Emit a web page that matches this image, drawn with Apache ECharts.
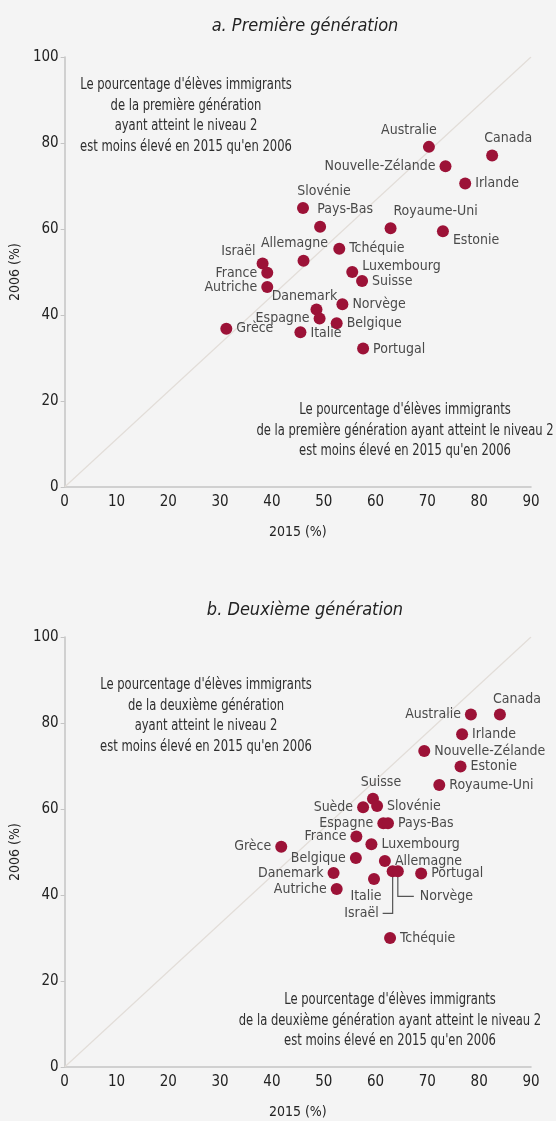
<!DOCTYPE html>
<html>
<head>
<meta charset="utf-8">
<script src="https://cdn.jsdelivr.net/npm/echarts@6/dist/echarts.min.js"></script>
<style>
  html, body { margin: 0; padding: 0; background: #f4f4f4; }
  #chart { width: 556px; height: 1121px; }
</style>
</head>
<body>
<div id="chart"></div>
<script>
// a. Première génération
const countriesA = ['Australie', 'Canada', 'Nouvelle-Zélande', 'Irlande', 'Slovénie', 'Pays-Bas',
  'Royaume-Uni', 'Estonie', 'Tchéquie', 'Allemagne', 'Israël', 'France', 'Autriche', 'Luxembourg',
  'Suisse', 'Danemark', 'Norvège', 'Espagne', 'Belgique', 'Grèce', 'Italie', 'Portugal']
const x2015A = [70.3, 82.5, 73.5, 77.3, 46.0, 49.3, 62.9, 73.0, 53.0, 46.1, 38.2, 39.1, 39.1, 55.5,
  57.4, 48.6, 53.6, 49.2, 52.5, 31.2, 45.5, 57.6]
const y2006A = [79.1, 77.1, 74.6, 70.6, 64.9, 60.5, 60.2, 59.5, 55.4, 52.6, 52.0, 49.8, 46.5, 50.0,
  47.9, 41.3, 42.5, 39.2, 38.1, 36.8, 36.0, 32.2]

// b. Deuxième génération
const countriesB = ['Australie', 'Canada', 'Irlande', 'Nouvelle-Zélande', 'Estonie', 'Royaume-Uni',
  'Suisse', 'Suède', 'Slovénie', 'Espagne', 'Pays-Bas', 'France', 'Luxembourg', 'Grèce', 'Belgique',
  'Allemagne', 'Israël', 'Norvège', 'Portugal', 'Danemark', 'Italie', 'Autriche', 'Tchéquie']
const x2015B = [78.4, 84.0, 76.7, 69.4, 76.4, 72.3, 59.5, 57.6, 60.3, 61.5, 62.4, 56.3, 59.2, 41.8,
  56.2, 61.8, 63.3, 64.3, 68.8, 51.9, 59.7, 52.5, 62.8]
const y2006B = [82.0, 82.0, 77.4, 73.5, 69.9, 65.6, 62.4, 60.4, 60.7, 56.7, 56.7, 53.6, 51.8, 51.2,
  48.6, 47.9, 45.5, 45.5, 45.0, 45.1, 43.7, 41.4, 30.0]

const xTicks = [0, 10, 20, 30, 40, 50, 60, 70, 80, 90]
const yTicks = [0, 20, 40, 60, 80, 100]

const titles = ['a. Première génération', 'b. Deuxième génération']
const noteTopA = "Le pourcentage d'élèves immigrants\nde la première génération\nayant atteint le niveau 2\nest moins élevé en 2015 qu'en 2006"
const noteBottomA = "Le pourcentage d'élèves immigrants\nde la première génération ayant atteint le niveau 2\nest moins élevé en 2015 qu'en 2006"
const noteTopB = "Le pourcentage d'élèves immigrants\nde la deuxième génération\nayant atteint le niveau 2\nest moins élevé en 2015 qu'en 2006"
const noteBottomB = "Le pourcentage d'élèves immigrants\nde la deuxième génération ayant atteint le niveau 2\nest moins élevé en 2015 qu'en 2006"

// label placement (style only)
const placeA = {
  'Australie': ['top', [-20, 0]], 'Canada': ['top', [16, 0]], 'Nouvelle-Zélande': ['left', [0, 0]],
  'Irlande': ['right', [0, 0]], 'Slovénie': ['top', [21, 0]], 'Pays-Bas': ['top', [25, 0]],
  'Royaume-Uni': ['top', [45, 0]], 'Estonie': ['right', [0, 9]], 'Tchéquie': ['right', [0, 0]],
  'Allemagne': ['top', [-9, 0]], 'Israël': ['left', [3, -12]], 'France': ['left', [0, 0]],
  'Autriche': ['left', [0, 0]], 'Luxembourg': ['right', [0, -6]], 'Suisse': ['right', [0, 0]],
  'Danemark': ['top', [-12, 4]], 'Norvège': ['right', [0, 0]], 'Espagne': ['left', [0, 0]],
  'Belgique': ['right', [0, 0]], 'Grèce': ['right', [0, 0]], 'Italie': ['right', [0, 1]],
  'Portugal': ['right', [0, 1]]
}
const placeB = {
  'Australie': ['left', [0, 0]], 'Canada': ['top', [17, 2]], 'Irlande': ['right', [0, 0]],
  'Nouvelle-Zélande': ['right', [0, 0]], 'Estonie': ['right', [0, 0]], 'Royaume-Uni': ['right', [0, 0]],
  'Suisse': ['top', [8, 1]], 'Suède': ['left', [0, 0]], 'Slovénie': ['right', [0, 0]],
  'Espagne': ['left', [0, 0]], 'Pays-Bas': ['right', [0, 0]], 'France': ['left', [0, 0]],
  'Luxembourg': ['right', [0, 0]], 'Grèce': ['left', [0, 0]], 'Belgique': ['left', [0, 0]],
  'Allemagne': ['right', [0, 0]], 'Israël': ['left', [-4, 42]], 'Norvège': ['right', [12, 25]],
  'Portugal': ['right', [0, 0]], 'Danemark': ['left', [0, 0]], 'Italie': ['bottom', [-8, 0]],
  'Autriche': ['left', [0, 0]], 'Tchéquie': ['right', [0, 0]]
}

const FONT = "'DejaVu Sans Condensed', sans-serif"
const DOT = '#9c1237'
const AXIS = '#c4c4c4'
const TEXT = '#222'

const buildPoints = (names, xs, ys, place) => names.map((n, i) => ({
  name: n,
  value: [xs[i], ys[i]],
  label: { position: place[n][0], offset: place[n][1] }
}))

const xAxisOpt = (gi) => ({
  type: 'value', gridIndex: gi, min: 0, max: xTicks[xTicks.length - 1], interval: 10,
  axisLine: { show: true, lineStyle: { color: AXIS, width: 1.5 } },
  axisTick: { show: false },
  splitLine: { show: false },
  axisLabel: { color: TEXT, fontFamily: FONT, fontSize: 15, margin: 8 },
  name: '2015 (%)', nameLocation: 'middle', nameGap: 38,
  nameTextStyle: { color: TEXT, fontFamily: FONT, fontSize: 14 }
})
const yAxisOpt = (gi) => ({
  type: 'value', gridIndex: gi, min: 0, max: yTicks[yTicks.length - 1], interval: 20,
  axisLine: { show: true, lineStyle: { color: AXIS, width: 1.5 } },
  axisTick: { show: true, length: 4, lineStyle: { color: AXIS } },
  splitLine: { show: false },
  axisLabel: { color: TEXT, fontFamily: FONT, fontSize: 15, margin: 6 },
  name: '2006 (%)', nameLocation: 'middle', nameGap: 40, nameRotate: 90,
  nameTextStyle: { color: TEXT, fontFamily: FONT, fontSize: 14 }
})

const scatterSeries = (idx, data) => ({
  type: 'scatter', xAxisIndex: idx, yAxisIndex: idx, data: data,
  symbolSize: 12, itemStyle: { color: DOT, opacity: 1 },
  label: { show: true, formatter: '{b}', color: '#4a4a4a', fontFamily: FONT, fontSize: 14, distance: 4 },
  z: 3
})
const diagSeries = (idx) => ({
  type: 'line', xAxisIndex: idx, yAxisIndex: idx, symbol: 'none', silent: true,
  data: [[xTicks[0], yTicks[0]], [xTicks[xTicks.length - 1], yTicks[yTicks.length - 1]]],
  lineStyle: { color: '#e2ddd8', width: 1.2 }, z: 1
})

const noteStyle = { fill: '#2e2e2e', font: '15.5px ' + FONT, textAlign: 'center', lineHeight: 20.5 }
const note = (x, y, text) => ({ type: 'text', x: x, y: y, scaleX: 0.83, style: Object.assign({ text: text }, noteStyle) })

const chart = echarts.init(document.getElementById('chart'))
chart.setOption({
  backgroundColor: '#f4f4f4',
  animation: false,
  title: [
    { text: titles[0], left: 300, top: 12, textAlign: 'center',
      textStyle: { fontFamily: FONT, fontStyle: 'italic', fontWeight: 'normal', fontSize: 18, color: TEXT } },
    { text: titles[1], left: 300, top: 596, textAlign: 'center',
      textStyle: { fontFamily: FONT, fontStyle: 'italic', fontWeight: 'normal', fontSize: 18, color: TEXT } }
  ],
  grid: [
    { left: 64, top: 57, width: 467, height: 430 },
    { left: 64, top: 637, width: 467, height: 430 }
  ],
  xAxis: [xAxisOpt(0), xAxisOpt(1)],
  yAxis: [yAxisOpt(0), yAxisOpt(1)],
  series: [
    diagSeries(0),
    diagSeries(1),
    scatterSeries(0, buildPoints(countriesA, x2015A, y2006A, placeA)),
    scatterSeries(1, buildPoints(countriesB, x2015B, y2006B, placeB))
  ]
})

// leader lines for Israël and Norvège (chart b), anchored on the data points
const iIsr = countriesB.indexOf('Israël')
const iNor = countriesB.indexOf('Norvège')
const pIsr = chart.convertToPixel({ seriesIndex: 3 }, [x2015B[iIsr], y2006B[iIsr]])
const pNor = chart.convertToPixel({ seriesIndex: 3 }, [x2015B[iNor], y2006B[iNor]])
chart.setOption({
  graphic: [
    note(186, 75, noteTopA),
    note(405, 400, noteBottomA),
    note(206, 675, noteTopB),
    note(390, 990, noteBottomB),
    { type: 'polyline', z: 2, shape: { points: [[pIsr[0], pIsr[1] + 5], [pIsr[0], pIsr[1] + 42], [pIsr[0] - 10, pIsr[1] + 42]] },
      style: { stroke: '#555', lineWidth: 1.2, fill: null } },
    { type: 'polyline', z: 2, shape: { points: [[pNor[0], pNor[1] + 5], [pNor[0], pNor[1] + 25], [pNor[0] + 16, pNor[1] + 25]] },
      style: { stroke: '#555', lineWidth: 1.2, fill: null } }
  ]
})
</script>
</body>
</html>
